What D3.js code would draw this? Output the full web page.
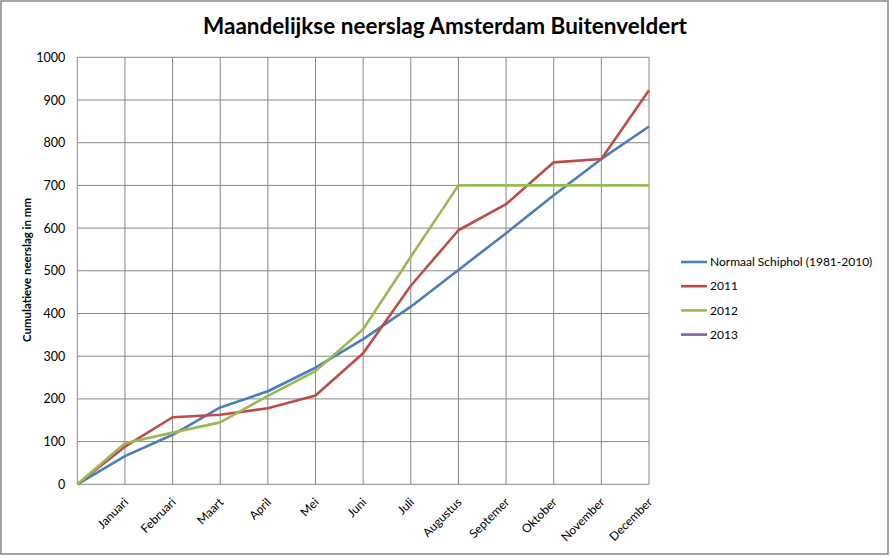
<!DOCTYPE html>
<html>
<head>
<meta charset="utf-8">
<script src="https://cdn.jsdelivr.net/npm/d3@7"></script>
<style>
  body { margin: 0; background: #fff; }
  text { font-family: Lato, "Open Sans", sans-serif; fill: #000; }
</style>
</head>
<body>
<svg width="890" height="556"></svg>
<script>
// month labels, index 0 is the starting point (no label)
var months = ["", "Januari", "Februari", "Maart", "April", "Mei", "Juni", "Juli",
  "Augustus", "Septemer", "Oktober", "November", "December"]
var yTicks = [0, 100, 200, 300, 400, 500, 600, 700, 800, 900, 1000]

// cumulative rainfall in mm
var normaal = [0, 66, 116, 180, 218, 273, 340, 416, 502, 588, 677, 762, 838]
var y2011 = [0, 88, 157, 163, 178, 208, 307, 465, 595, 656, 754, 762, 923]
var y2012 = [0, 96, 121, 145, 207, 265, 363, 533, 700, 700, 700, 700, 700]
var y2013 = []

var seriesNames = ["Normaal Schiphol (1981-2010)", "2011", "2012", "2013"]
var seriesData = [normaal, y2011, y2012, y2013]
var colors = ["#4A7EBB", "#BE4B48", "#98B954", "#7D60A0"]

var svg = d3.select("svg")
// note: "top" is a reserved window prop, so use plot* names
var plotL = 77.3, plotR = 649, plotT = 57.3, plotB = 484.3

// outer frame
svg.append("rect")
  .attr("x", 1).attr("y", 1).attr("width", 887).attr("height", 553)
  .attr("fill", "#fff").attr("stroke", "#868686").attr("stroke-width", 1.5)

var x = d3.scaleLinear().domain([0, months.length - 1]).range([plotL, plotR])
var y = d3.scaleLinear().domain([0, 1000]).range([plotB, plotT])

// gridlines
svg.append("g")
  .selectAll("line")
  .data(yTicks)
  .enter().append("line")
  .attr("x1", plotL).attr("x2", plotR)
  .attr("y1", function(d) { return y(d) }).attr("y2", function(d) { return y(d) })
  .attr("stroke", "#868686").attr("stroke-width", 1)

svg.append("g")
  .selectAll("line")
  .data(d3.range(months.length))
  .enter().append("line")
  .attr("x1", function(d) { return x(d) }).attr("x2", function(d) { return x(d) })
  .attr("y1", plotT).attr("y2", plotB)
  .attr("stroke", "#868686").attr("stroke-width", 1)

// y axis
var yAxis = svg.append("g")
  .attr("transform", "translate(" + plotL + ",0)")
  .call(d3.axisLeft(y).tickValues(yTicks).tickFormat(d3.format("d")).tickSize(0).tickPadding(12))
yAxis.select(".domain").remove()
yAxis.selectAll("text").style("font-size", "12.5px").style("font-family", "Lato, 'Open Sans', sans-serif")

// x labels, rotated
svg.append("g")
  .selectAll("text")
  .data(months.slice(1))
  .enter().append("text")
  .attr("text-anchor", "end")
  .attr("transform", function(d, i) {
    return "translate(" + (x(i + 1) + 4) + "," + 503 + ") rotate(-45)"
  })
  .style("font-size", "12px")
  .text(function(d) { return d })

// lines
var line = d3.line()
  .x(function(d, i) { return x(i) })
  .y(function(d) { return y(d) })

svg.append("g")
  .selectAll("path")
  .data(seriesData)
  .enter().append("path")
  .attr("d", function(d) { return d.length ? line(d) : null })
  .attr("fill", "none")
  .attr("stroke", function(d, i) { return colors[i] })
  .attr("stroke-width", 2.6)
  .attr("stroke-linejoin", "round")

// title
svg.append("text")
  .attr("x", 445).attr("y", 34)
  .attr("text-anchor", "middle")
  .style("font-size", "22.5px").style("font-weight", "bold")
  .text("Maandelijkse neerslag Amsterdam Buitenveldert")

// y axis title
svg.append("text")
  .attr("transform", "translate(31,270) rotate(-90)")
  .attr("text-anchor", "middle")
  .style("font-size", "11.5px").style("font-weight", "bold")
  .text("Cumulatieve neerslag in mm")

// legend
var legend = svg.append("g").attr("transform", "translate(681,262)")
var items = legend.selectAll("g")
  .data(seriesNames)
  .enter().append("g")
  .attr("transform", function(d, i) { return "translate(0," + (i * 24.2) + ")" })
items.append("line")
  .attr("x1", 0).attr("x2", 26)
  .attr("stroke", function(d, i) { return colors[i] })
  .attr("stroke-width", 2.6)
items.append("text")
  .attr("x", 29).attr("dy", "0.35em")
  .style("font-size", "12px")
  .text(function(d) { return d })
</script>
</body>
</html>
